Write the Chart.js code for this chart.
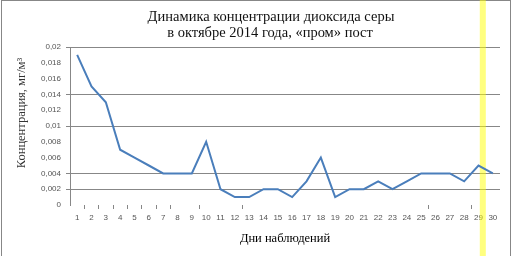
<!DOCTYPE html>
<html><head><meta charset="utf-8">
<script src="https://cdn.jsdelivr.net/npm/chart.js@4"></script>
<style>html,body{margin:0;padding:0;background:#fff}#wrap{width:512px;height:256px;position:relative}</style>
</head><body><div id="wrap"><canvas id="c" width="512" height="256"></canvas></div>
<script>
const titleLines = ["Динамика концентрации диоксида серы", "в октябре 2014 года, «пром» пост"];
const xTitle = "Дни наблюдений";
const yTitle = "Концентрация, мг/м³";
const days = ["1","2","3","4","5","6","7","8","9","10","11","12","13","14","15","16","17","18","19","20","21","22","23","24","25","26","27","28","29","30"];
const so2 = [0.019,0.015,0.013,0.007,0.006,0.005,0.004,0.004,0.004,0.008,0.002,0.001,0.001,0.002,0.002,0.001,0.003,0.006,0.001,0.002,0.002,0.003,0.002,0.003,0.004,0.004,0.004,0.003,0.005,0.004];
const highlightDay = "29";
const shownYGrid = [0.02, 0.014, 0.01, 0.004, 0.002];
const shownXTicks = [1,2,3,4,5,6,7,9,12,25,28];

const GRAY = '#878787';
const frameAndBand = {
  id: 'frameAndBand',
  beforeDraw(chart) {
    const ctx = chart.ctx;
    ctx.save();
    ctx.strokeStyle = GRAY; ctx.lineWidth = 1;
    ctx.strokeRect(1.5, 0.5, 509, 260);
    ctx.fillStyle = '#111';
    ctx.font = '14.5px "Liberation Serif", "DejaVu Serif", serif';
    ctx.textAlign = 'center'; ctx.textBaseline = 'middle';
    ctx.fillText(titleLines[0], 271, 17);
    ctx.fillText(titleLines[1], 270, 33);
    ctx.translate(22, 113);
    ctx.rotate(-Math.PI / 2);
    ctx.fillStyle = '#333';
    ctx.font = '12.5px "Liberation Serif", "DejaVu Serif", serif';
    ctx.fillText(yTitle, 0, 0);
    ctx.restore();
  },
  beforeDatasetsDraw(chart) {
    const xs = chart.scales.x, ctx = chart.ctx;
    const i = days.indexOf(highlightDay);
    const w = (xs.getPixelForValue(1) - xs.getPixelForValue(0));
    const cx = xs.getPixelForValue(i) + 0.3 * w;
    ctx.save();
    ctx.fillStyle = 'rgba(255,255,0,0.5)';
    ctx.fillRect(cx - 0.21 * w, 0, 0.42 * w, chart.height);
    ctx.restore();
  }
};

new Chart(document.getElementById('c'), {
  type: 'line',
  data: { labels: days, datasets: [{ data: so2, borderColor: '#4a7ebb', borderWidth: 2, pointRadius: 0, tension: 0, fill: false }] },
  options: {
    responsive: false, animation: false,
    layout: { padding: { top: 47, right: 12, left: 12, bottom: 10 } },
    plugins: { legend: { display: false }, tooltip: { enabled: false }, title: { display: false } },
    scales: {
      x: {
        offset: true,
        afterFit(s) { s.height = 41; },
        grid: { offset: true, drawOnChartArea: false, drawTicks: true, tickLength: 4,
          tickColor: (c) => shownXTicks.includes(c.index) ? GRAY : 'rgba(0,0,0,0)' },
        border: { display: false },
        ticks: { autoSkip: false, maxRotation: 0, padding: 4, color: '#555', font: { family: '"Liberation Sans", Arial, sans-serif', size: 8 } },
        title: { display: true, text: xTitle, color: '#000', padding: { top: 2, bottom: 0 }, font: { family: '"Liberation Serif", serif', size: 12.5 } }
      },
      y: {
        min: 0, max: 0.02,
        afterFit(s) { s.width = 58; },
        ticks: { stepSize: 0.002, padding: 5, color: '#555', font: { family: '"Liberation Sans", Arial, sans-serif', size: 8 },
          callback: (v) => String(Math.round(v * 1000) / 1000).replace('.', ',') },
        grid: { tickLength: 4, color: (c) => shownYGrid.some(g => Math.abs(g - c.tick.value) < 1e-9) ? GRAY : 'rgba(0,0,0,0)' },
        border: { display: true, color: GRAY },
        title: { display: false }
      }
    }
  },
  plugins: [frameAndBand]
});
</script></body></html>
